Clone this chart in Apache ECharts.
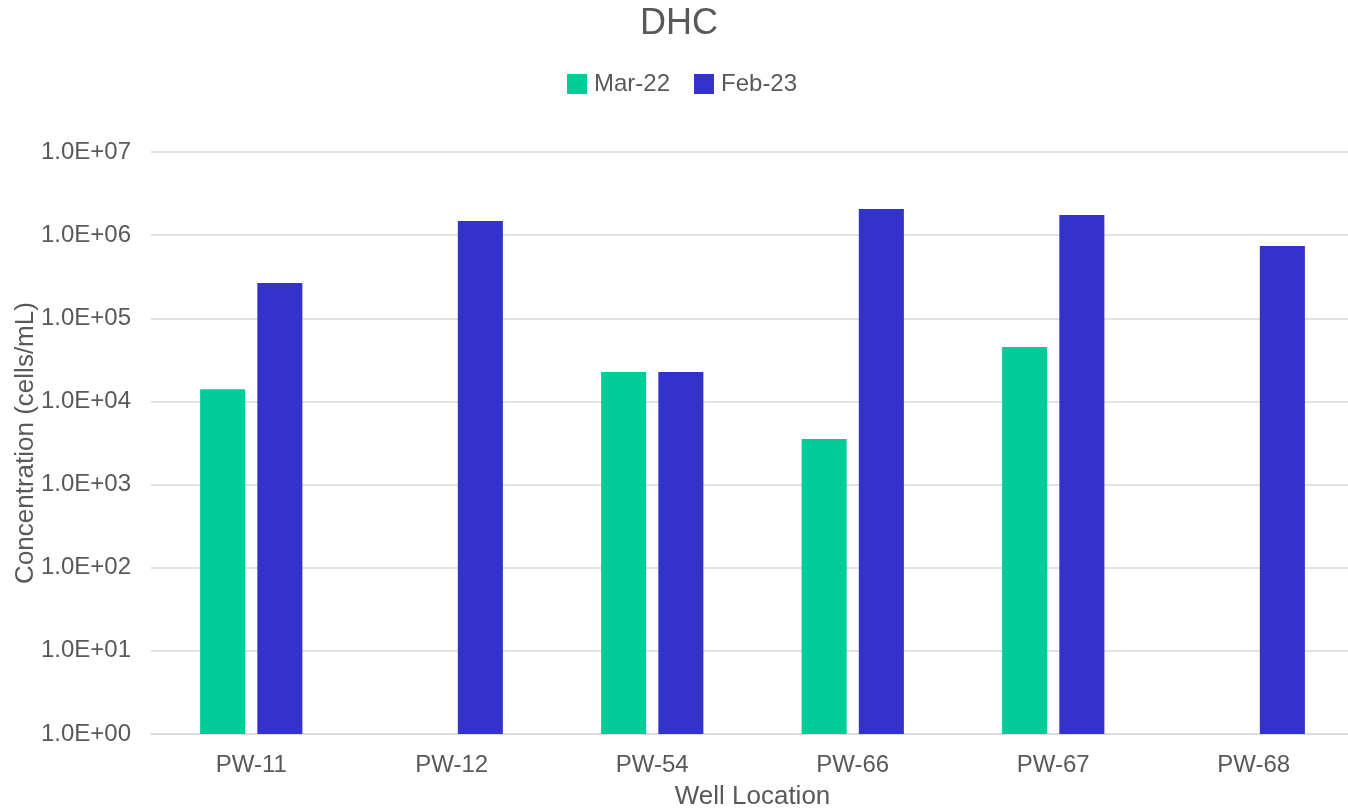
<!DOCTYPE html>
<html>
<head>
<meta charset="utf-8">
<script src="https://cdn.jsdelivr.net/npm/echarts@6/dist/echarts.min.js"></script>
<style>
  html, body { margin: 0; padding: 0; background: #fff; }
  #chart { width: 1348px; height: 809px; }
</style>
</head>
<body>
<div id="chart"></div>
<script>
var wells = ['PW-11', 'PW-12', 'PW-54', 'PW-66', 'PW-67', 'PW-68']
var mar22 = [14000, null, 22600, 3530, 45200, null]
var feb23 = [265000, 1480000, 22600, 2060000, 1750000, 740000]

var chart = echarts.init(document.getElementById('chart'))

function sci(v) {
  var e = Math.round(Math.log10(v))
  var m = v / Math.pow(10, e)
  return m.toFixed(1) + 'E+' + (e < 10 ? '0' + e : e)
}

chart.setOption({
  textStyle: { fontFamily: 'Liberation Sans, Arial, sans-serif' },
  title: {
    text: 'DHC',
    left: 635,
    top: 1,
    textStyle: { fontSize: 36, fontWeight: 'normal', color: '#595959' }
  },
  legend: {
    top: 67,
    left: 562,
    itemWidth: 20,
    itemHeight: 20,
    itemGap: 24,
    icon: 'rect',
    textStyle: { fontSize: 24, color: '#595959', padding: [0, 0, 0, 2] },
    data: ['Mar-22', 'Feb-23']
  },
  grid: { left: 151, right: -6, top: 152, bottom: 75, outerBoundsMode: 'none' },
  xAxis: {
    type: 'category',
    data: wells,
    name: 'Well Location',
    nameLocation: 'middle',
    nameGap: 50,
    nameMoveOverlap: false,
    nameTextStyle: { fontSize: 26, color: '#595959' },
    axisLine: { lineStyle: { color: '#d9d9d9', width: 1.5 } },
    axisTick: { show: false },
    axisLabel: { fontSize: 24, color: '#595959', margin: 19 }
  },
  yAxis: {
    type: 'log',
    logBase: 10,
    min: 1,
    max: 10000000,
    name: 'Concentration (cells/mL)',
    nameLocation: 'middle',
    nameGap: 112,
    nameMoveOverlap: false,
    nameTextStyle: { fontSize: 26, color: '#595959' },
    axisLine: { show: false },
    axisTick: { show: false },
    splitLine: { lineStyle: { color: '#d9d9d9', width: 1.5 } },
    axisLabel: { fontSize: 24, color: '#595959', margin: 20, formatter: sci }
  },
  series: [
    {
      name: 'Mar-22',
      type: 'bar',
      data: mar22,
      barGap: '27%',
      barCategoryGap: '49%',
      itemStyle: { color: '#00cc99' }
    },
    {
      name: 'Feb-23',
      type: 'bar',
      data: feb23,
      itemStyle: { color: '#3333cc' }
    }
  ]
})
</script>
</body>
</html>
